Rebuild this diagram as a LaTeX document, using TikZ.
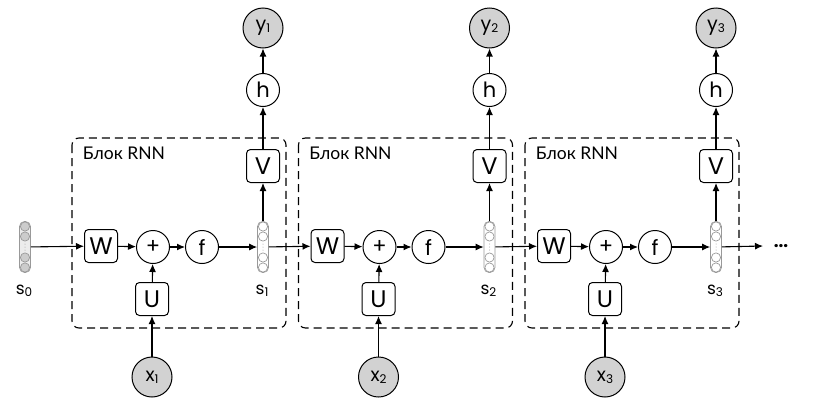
\documentclass[tikz,border=0pt]{standalone}
\usepackage{fontspec}
\setmainfont{Poppins}
\newfontfamily\cyrfont{Lato}
\usetikzlibrary{arrows.meta}

\newcommand{\sub}[1]{\raisebox{-0.2ex}{\fontsize{12}{12}\selectfont #1}}
% cells of a state vector
\newcommand{\cells}[2]{%
  \foreach \d in {-20.5,-10.5,10.5,20.5}
    \draw[gray!80, line width=0.7pt, fill=#2] ([yshift=\d pt]#1.center) circle (4.6pt);
  \foreach \d in {-3,0,3}
    \fill[gray!80] ([yshift=\d pt]#1.center) circle (0.5pt);
}

\tikzset{
  op/.style = {draw, rounded corners=4pt, minimum width=33pt, minimum height=33pt, inner sep=0pt, line width=1pt, font=\fontsize{24}{24}\selectfont},
  fn/.style = {draw, circle, minimum size=33pt, inner sep=0pt, line width=1pt, font=\fontsize{21}{21}\selectfont},
  io/.style = {draw, circle, fill=gray!35, minimum size=40pt, inner sep=0pt, line width=1pt, font=\fontsize{19}{19}\selectfont},
  vec/.style = {draw=gray!80, line width=0.7pt, rounded corners=5pt, minimum width=11pt, minimum height=51pt, inner sep=0pt},
  lab/.style = {font=\fontsize{17}{17}\selectfont},
  title/.style = {font=\cyrfont\fontsize{17.5}{17.5}\selectfont},
  block/.style = {draw, line width=1.1pt, dash pattern=on 8pt off 5pt, rounded corners=7pt},
}

\begin{document}
\begin{tikzpicture}[x=1pt, y=-1pt, >={Latex[length=8pt,width=7pt]}, line width=1.1pt]
\useasboundingbox (0,0) rectangle (816,402);
\node[vec, fill=gray!15] at (25,247) (s0) {};
\cells{s0}{gray!40}
\node[lab] at (24,291) (ls0) {s\sub{0}};
% block 1
\draw[block] (72,138) rectangle (286,328);
\node[title] at (124,153) (lbl1) {Блок RNN};
\node[op] at (101,246) (w1) {W};
\node[fn] at (153,247) (p1) {+};
\node[fn] at (202,247) (f1) {f};
\node[vec] at (263,247) (s1) {};
\cells{s1}{white}
\node[lab] at (262,291) (ls1) {s\sub{1}};
\node[op] at (263,166) (v1) {V};
\node[fn] at (263,90) (h1) {h};
\node[io] at (263,28) (y1) {y\sub{1}};
\node[op] at (152,299) (u1) {U};
\node[io] at (152,377) (x1) {x\sub{1}};
\draw[->] (w1) -- (p1);
\draw[->] (p1) -- (f1);
\draw[->] (f1) -- (s1);
\draw[->] (u1) -- (p1);
\draw[->] (x1) -- (u1);
\draw[->] (s1) -- (v1);
\draw[->] (v1) -- (h1);
\draw[->] (h1) -- (y1);
% block 2
\begin{scope}[xshift=226.5pt]
\draw[block] (72,138) rectangle (286,328);
\node[title] at (124,153) (lbl2) {Блок RNN};
\node[op] at (101,246) (w2) {W};
\node[fn] at (153,247) (p2) {+};
\node[fn] at (202,247) (f2) {f};
\node[vec] at (263,247) (s2) {};
\cells{s2}{white}
\node[lab] at (262,291) (ls2) {s\sub{2}};
\node[op] at (263,166) (v2) {V};
\node[fn] at (263,90) (h2) {h};
\node[io] at (263,28) (y2) {y\sub{2}};
\node[op] at (152,299) (u2) {U};
\node[io] at (152,377) (x2) {x\sub{2}};
\draw[->] (w2) -- (p2);
\draw[->] (p2) -- (f2);
\draw[->] (f2) -- (s2);
\draw[->] (u2) -- (p2);
\draw[->] (x2) -- (u2);
\draw[->] (s2) -- (v2);
\draw[->] (v2) -- (h2);
\draw[->] (h2) -- (y2);
\end{scope}
% block 3
\begin{scope}[xshift=453pt]
\draw[block] (72,138) rectangle (286,328);
\node[title] at (124,153) (lbl3) {Блок RNN};
\node[op] at (101,246) (w3) {W};
\node[fn] at (153,247) (p3) {+};
\node[fn] at (202,247) (f3) {f};
\node[vec] at (263,247) (s3) {};
\cells{s3}{white}
\node[lab] at (262,291) (ls3) {s\sub{3}};
\node[op] at (263,166) (v3) {V};
\node[fn] at (263,90) (h3) {h};
\node[io] at (263,28) (y3) {y\sub{3}};
\node[op] at (152,299) (u3) {U};
\node[io] at (152,377) (x3) {x\sub{3}};
\draw[->] (w3) -- (p3);
\draw[->] (p3) -- (f3);
\draw[->] (f3) -- (s3);
\draw[->] (u3) -- (p3);
\draw[->] (x3) -- (u3);
\draw[->] (s3) -- (v3);
\draw[->] (v3) -- (h3);
\draw[->] (h3) -- (y3);
\end{scope}
% recurrent links
\coordinate (out) at (763,246);
\node[lab] at (781,246) (more) {\textbf{...}};
\draw[->] (s0) -- (w1);
\draw[->] (s1) -- (w2);
\draw[->] (s2) -- (w3);
\draw[->] (s3) -- (out);
\end{tikzpicture}
\end{document}
